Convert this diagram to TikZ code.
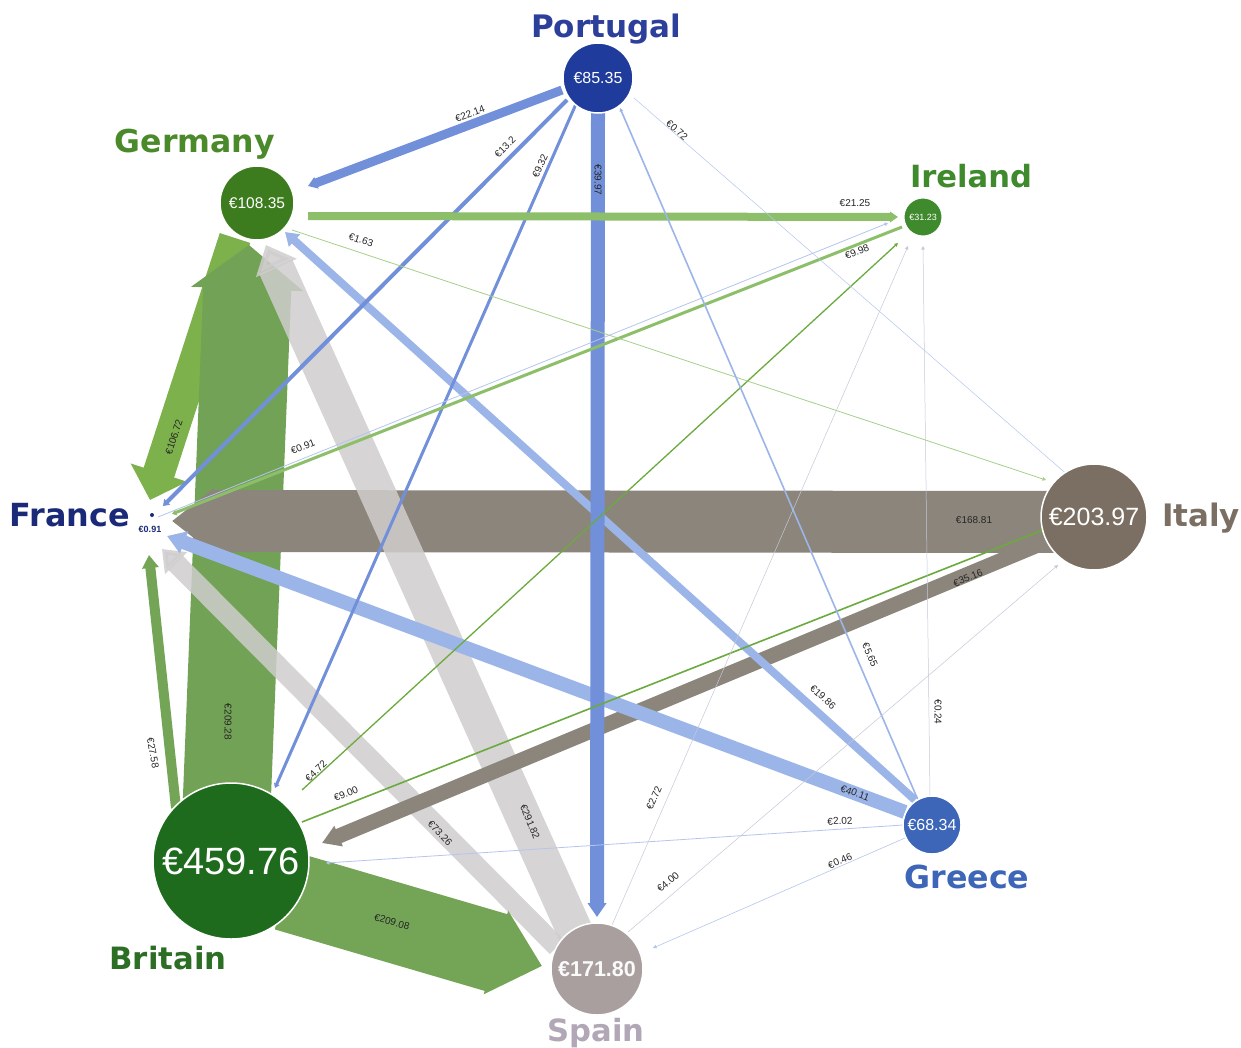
\documentclass[tikz,border=0pt]{standalone}
\usepackage{fontspec}
\setmainfont{Liberation Sans}
\newfontfamily\heavy{DejaVu Sans}
\usetikzlibrary{arrows.meta,calc}
\definecolor{porfill}{HTML}{1F3C9C}
\definecolor{porlbl}{HTML}{2C3F9B}
\definecolor{gerfill}{HTML}{3C7C1E}
\definecolor{gerlbl}{HTML}{4B8A2A}
\definecolor{irefill}{HTML}{3E8A2C}
\definecolor{itafill}{HTML}{7A6F62}
\definecolor{brifill}{HTML}{1E6B1E}
\definecolor{brilbl}{HTML}{2B6E24}
\definecolor{spafill}{HTML}{A99F9F}
\definecolor{spalbl}{HTML}{B1A7B7}
\definecolor{grefill}{HTML}{3D66B8}
\definecolor{fralbl}{HTML}{1B2A78}
\definecolor{bluemid}{HTML}{7290DA}
\definecolor{bluelt}{HTML}{9CB5E8}
\definecolor{bluefaint}{HTML}{B4C5EE}
\definecolor{grnband}{HTML}{72A255}
\definecolor{grnlt}{HTML}{7DB14B}
\definecolor{grnbri}{HTML}{74A556}
\definecolor{grnire}{HTML}{8DBF6B}
\definecolor{grnline}{HTML}{6AAA3E}
\definecolor{grnfaint}{HTML}{A6D08A}
\definecolor{itaband}{HTML}{8C857C}
\definecolor{spaband}{HTML}{CFCDCD}
\definecolor{faint}{HTML}{C6C8D8}
\newcommand\ctext[2]{\resizebox{#1pt}{!}{\heavy\bfseries #2}}
\begin{document}
\begin{tikzpicture}[x=1pt,y=-1pt,
  band/.style={line width=#1pt},
  headw/.style 2 args={-{Triangle[width=0pt #1,length=0pt #2]}},
  smalltip/.style={-{Triangle[width=3.5pt,length=3.5pt]}},
  lbl/.style={font=\fontsize{10}{10}\selectfont, text=black!85, inner sep=1pt},
  val/.style={circle, draw=white, line width=1.5pt, inner sep=0pt, text=white}]
\useasboundingbox[fill=white] (0,0) rectangle (1241,1047);
% centres
\coordinate (por) at (598,78);
\coordinate (ger) at (257,203);
\coordinate (ire) at (923,217);
\coordinate (fra) at (152,515);
\coordinate (ita) at (1094,517);
\coordinate (bri) at (231,861);
\coordinate (spa) at (597,969);
\coordinate (gre) at (932,825);
% wide bands
\draw[band=32, draw=grnlt, headw={1.8}{0.9}] ($(ger)+(-22,35)$) -- ($(fra)+(-2,-15)$);
\draw[band=88, draw=grnband, headw={1.25}{0.5}] ($(bri)+(-5,-40)$) -- ($(ger)+(-8,42)$);
\draw[band=62, draw=itaband, headw={1.02}{0.68}] ($(ita)+(-30,5)$) -- ($(fra)+(20,6)$);
\draw[band=36, draw=spaband, opacity=0.85, headw={1.2}{0.7}] ($(spa)+(-16,-24)$) -- ($(ger)+(9,42)$);
\draw[band=20, draw=spaband, opacity=0.85, headw={1.5}{1.0}] ($(spa)+(-40,-22)$) -- ($(fra)+(10,34)$);
\draw[band=80, draw=grnbri, headw={1.05}{0.6}] ($(bri)+(55,30)$) -- ($(spa)+(-55,-3)$);
\draw[band=10, draw=grnbri, headw={1.6}{1.3}] ($(bri)+(-55,-53)$) -- ($(fra)+(-3,40)$);
\draw[band=15, draw=itaband, headw={1.4}{1.2}] ($(ita)+(-44,23)$) -- ($(bri)+(91,-18)$);
% blue bands
\draw[band=14, draw=bluelt, headw={1.6}{1.3}] ($(gre)+(-27,-13)$) -- ($(fra)+(15,21)$);
\draw[band=8, draw=bluelt, headw={2}{1.6}] ($(gre)+(-17,-25)$) -- ($(ger)+(28,29)$);
\draw[band=14, draw=bluemid, headw={1.3}{1}] ($(por)+(0,35)$) -- ($(spa)+(0,-52)$);
\draw[band=9, draw=bluemid, headw={1.3}{1}] ($(por)+(-36,12)$) -- ($(ger)+(51,-17)$);
\draw[band=4, draw=bluemid, headw={2}{1.5}] ($(por)+(-31,22)$) -- ($(fra)+(11,-9)$);
\draw[band=3, draw=bluemid, headw={2}{1.5}] ($(por)+(-22,26)$) -- ($(bri)+(44,-73)$);
% green lines
\draw[band=8, draw=grnire, headw={1.3}{1}] ($(ger)+(51,13)$) -- ($(ire)+(-25,0)$);
\draw[band=3, draw=grnire, headw={2}{1.5}] ($(ire)+(-21,10)$) -- ($(fra)+(20,-1)$);
\draw[band=1.3, draw=grnline, smalltip] ($(bri)+(71,-71)$) -- ($(ire)+(-25,26)$);
\draw[band=1.6, draw=grnline, smalltip] ($(bri)+(71,-39)$) -- ($(ita)+(-51,13)$);
\draw[band=0.8, draw=grnfaint, smalltip] ($(ger)+(35,27)$) -- ($(ita)+(-48,-37)$);
% thin blue / faint lines
\draw[band=1.6, draw=bluelt, smalltip] ($(gre)+(-14,-25)$) -- ($(por)+(22,30)$);
\draw[band=0.8, draw=bluefaint, smalltip] ($(fra)+(6,2)$) -- ($(ire)+(-35,6)$);
\draw[band=0.8, draw=bluefaint, smalltip] ($(gre)+(-29,0)$) -- ($(bri)+(95,2)$);
\draw[band=0.6, draw=bluefaint, smalltip] ($(gre)+(-27,13)$) -- ($(spa)+(56,-21)$);
\draw[band=0.5, draw=bluefaint, smalltip] ($(por)+(36,20)$) -- ($(ita)+(-24,-40)$);
\draw[band=0.5, draw=faint, smalltip] ($(gre)+(-2,-28)$) -- ($(ire)+(0,29)$);
\draw[band=0.5, draw=faint, smalltip] ($(spa)+(15,-44)$) -- ($(ire)+(-15,29)$);
\draw[band=0.5, draw=faint, smalltip] ($(spa)+(31,-37)$) -- ($(ita)+(-36,48)$);
% edge labels
\node[lbl, rotate=20.7] (l01) at (470,114) {€22.14};
\node[lbl, rotate=45] (l02) at (505,147) {€13.2};
\node[lbl, rotate=66] (l03) at (540,166) {€9.32};
\node[lbl, rotate=-90] (l04) at (598,180) {€39.97};
\node[lbl, rotate=-41] (l05) at (677,130) {€0.72};
\node[lbl] (l06) at (855,203) {€21.25};
\node[lbl, rotate=21] (l07) at (857,252) {€9.98};
\node[lbl, rotate=-18] (l08) at (361,240) {€1.63};
\node[lbl, rotate=22] (l09) at (303,447) {€0.91};
\node[lbl, rotate=72] (l10) at (174,437) {€106.72};
\node[lbl] (l11) at (974,520) {€168.81};
\node[lbl, rotate=22.6] (l12) at (968,578) {€35.16};
\node[lbl, rotate=-66] (l13) at (870,655) {€5.65};
\node[lbl, rotate=-42] (l14) at (823,697) {€19.86};
\node[lbl, rotate=-90] (l15) at (938,712) {€0.24};
\node[lbl, rotate=-20] (l16) at (855,793) {€40.11};
\node[lbl, rotate=3.7] (l17) at (840,821) {€2.02};
\node[lbl, rotate=23.6] (l18) at (840,861) {€0.46};
\node[lbl, rotate=66.5] (l19) at (654,798) {€2.72};
\node[lbl, rotate=40.5] (l20) at (668,882) {€4.00};
\node[lbl, rotate=43] (l21) at (316,771) {€4.72};
\node[lbl, rotate=21.5] (l22) at (346,794) {€9.00};
\node[lbl, rotate=-47] (l23) at (440,833) {€73.26};
\node[lbl, rotate=-67] (l24) at (530,822) {€291.82};
\node[lbl, rotate=-90] (l25) at (228,722) {€209.28};
\node[lbl, rotate=-80] (l26) at (153,753) {€27.58};
\node[lbl, rotate=-16] (l27) at (392,922) {€209.08};
% country circles
\node[val, fill=porfill, minimum size=70pt, font=\fontsize{16}{16}\selectfont] (portugalC) at (por) {€85.35};
\node[val, fill=gerfill, minimum size=74pt, font=\fontsize{15.5}{15.5}\selectfont] (germanyC) at (ger) {€108.35};
\node[val, fill=irefill, minimum size=38pt, line width=1pt, font=\fontsize{9}{9}\selectfont] (irelandC) at (ire) {€31.23};
\node[val, fill=itafill, minimum size=106pt, font=\fontsize{25}{25}\selectfont] (italyC) at (ita) {€203.97};
\node[val, fill=brifill, minimum size=156pt, font=\fontsize{38}{38}\selectfont] (britainC) at (bri) {€459.76};
\node[val, fill=spafill, minimum size=92pt, text=white!95!spafill, font=\bfseries\fontsize{21.5}{21.5}\selectfont] (spainC) at (spa) {€171.80};
\node[val, fill=grefill, minimum size=58pt, font=\fontsize{16}{16}\selectfont] (greeceC) at (gre) {€68.34};
\fill[fralbl] (fra) circle (2);
\node[text=fralbl, font=\bfseries\fontsize{9}{9}\selectfont, inner sep=0pt] (franceV) at (150,529) {€0.91};
% country names
\node[text=porlbl, inner sep=0pt] (portugal) at (606,29) {\ctext{150}{Portugal}};
\node[text=gerlbl, inner sep=0pt] (germany) at (195,144) {\ctext{160}{Germany}};
\node[text=irefill, inner sep=0pt] (ireland) at (971,176) {\ctext{122}{Ireland}};
\node[text=fralbl, inner sep=0pt] (france) at (70,515) {\ctext{120}{France}};
\node[text=itafill, inner sep=0pt] (italy) at (1201,518) {\ctext{78}{Italy}};
\node[text=brilbl, inner sep=0pt] (britain) at (168,958) {\ctext{117}{Britain}};
\node[text=grefill, inner sep=0pt] (greece) at (967,877) {\ctext{125}{Greece}};
\node[text=spalbl, inner sep=0pt] (spain) at (596,1033) {\ctext{97}{Spain}};
\end{tikzpicture}
\end{document}
